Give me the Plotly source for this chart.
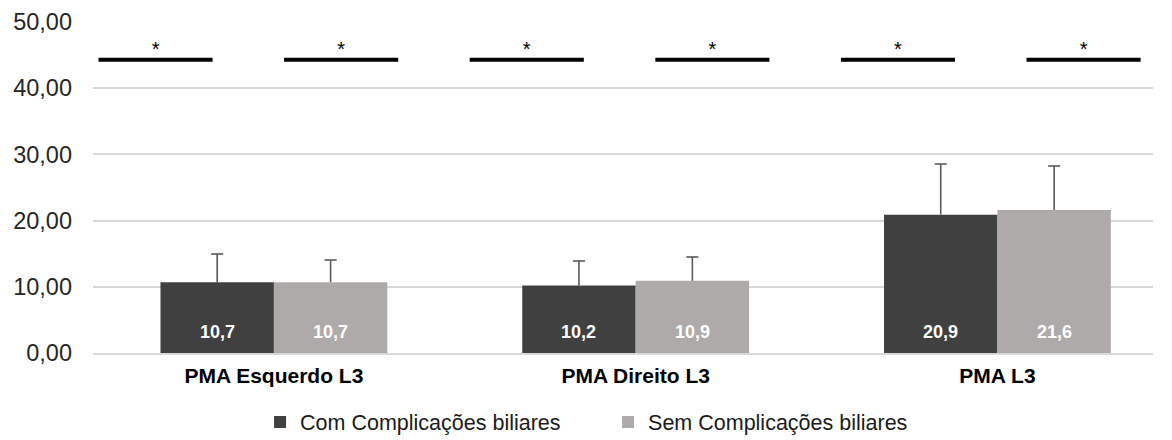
import plotly.graph_objects as go

# ---- data ----
categories = ["PMA Esquerdo L3", "PMA Direito L3", "PMA L3"]
series_names = ["Com Complicações biliares", "Sem Complicações biliares"]
com_values = [10.7, 10.2, 20.9]
sem_values = [10.7, 10.9, 21.6]
com_err = [4.25, 3.7, 7.65]
sem_err = [3.35, 3.6, 6.65]
sig_pos = [0, 1, 2, 3, 4, 5]
sig_y = [44.3, 44.3, 44.3, 44.3, 44.3, 44.3]
sig_text = ["*", "*", "*", "*", "*", "*"]
y_ticks = [0, 10, 20, 30, 40, 50]
y_tick_labels = ["0,00", "10,00", "20,00", "30,00", "40,00", "50,00"]
label_y = 3.2

DARK = "#404040"
LIGHT = "#AEAAAA"
ERRC = "#595959"
FONT = "Liberation Sans, Arial, sans-serif"

fig = go.Figure()

for name, vals, errs, col, grp in ((series_names[0], com_values, com_err, DARK, "a"),
                                   (series_names[1], sem_values, sem_err, LIGHT, "b")):
    fig.add_trace(go.Bar(
        x=categories, y=vals, name=name, offsetgroup=grp,
        marker=dict(color=col, line=dict(width=0)),
        error_y=dict(type="data", array=errs, arrayminus=[0] * 3, symmetric=False,
                     color=ERRC, thickness=1.6, width=0),
    ))

for vals, errs, grp in ((com_values, com_err, "a"), (sem_values, sem_err, "b")):
    fig.add_trace(go.Scatter(
        x=categories, y=[v + e for v, e in zip(vals, errs)], offsetgroup=grp,
        mode="markers", showlegend=False, hoverinfo="skip",
        marker=dict(symbol="line-ew", size=8.6, color=ERRC,
                    line=dict(width=1.6, color=ERRC)),
    ))

# significance lines
fig.add_trace(go.Scatter(
    x=sig_pos, y=sig_y, xaxis="x2", mode="markers", showlegend=False,
    offsetgroup="s", alignmentgroup="s",
    marker=dict(symbol="line-ew", size=81.5, color="black",
                line=dict(width=4, color="black")),
    hoverinfo="skip", cliponaxis=False,
))
fig.add_trace(go.Scatter(
    x=sig_pos, y=[v + 1.25 for v in sig_y], xaxis="x2", mode="text", showlegend=False,
    offsetgroup="s", alignmentgroup="s",
    text=sig_text, textposition="middle center",
    textfont=dict(family=FONT, size=20, color="black"),
    hoverinfo="skip", cliponaxis=False,
))

# value labels inside bars
annotations = []
for i, (a, b) in enumerate(zip(com_values, sem_values)):
    for v, shift in ((a, -56.75), (b, 56.75)):
        annotations.append(dict(
            x=categories[i], y=label_y, xref="x", yref="y",
            text=f"<b>{v:.1f}</b>".replace(".", ","), showarrow=False,
            xshift=shift, font=dict(family=FONT, size=18, color="white"),
        ))

fig.update_layout(
    width=1172, height=440,
    margin=dict(l=85, r=27, t=14, b=95, autoexpand=False),
    paper_bgcolor="white", plot_bgcolor="white",
    barmode="group", bargap=0.373, bargroupgap=0,
    scattermode="group", scattergap=0.373,
    font=dict(family=FONT, color="#262626"),
    showlegend=True,
    legend=dict(orientation="h", xref="container", yref="container",
                x=0.512, xanchor="center", y=0.059, yanchor="middle",
                font=dict(family=FONT, size=21.5, color="#1a1a1a"),
                entrywidth=303, entrywidthmode="pixels", traceorder="normal"),
    xaxis=dict(range=[-0.5, 2.43], showgrid=False, showline=True,
               linecolor="#D9D9D9", linewidth=1.5, ticks="", automargin=False,
               tickfont=dict(family=FONT, size=21, color="black", weight="bold"),
               ticklabelstandoff=3),
    xaxis2=dict(overlaying="x", range=[-0.337, 5.374], visible=False),
    yaxis=dict(range=[0, 50], tickvals=y_ticks, ticktext=y_tick_labels,
               showgrid=True, gridcolor="#D9D9D9", gridwidth=1.5, automargin=False,
               zeroline=False, ticks="", ticklabelstandoff=20,
               tickfont=dict(family=FONT, size=23.5, color="#262626")),
    annotations=annotations,
)

fig.write_html("out.html")
